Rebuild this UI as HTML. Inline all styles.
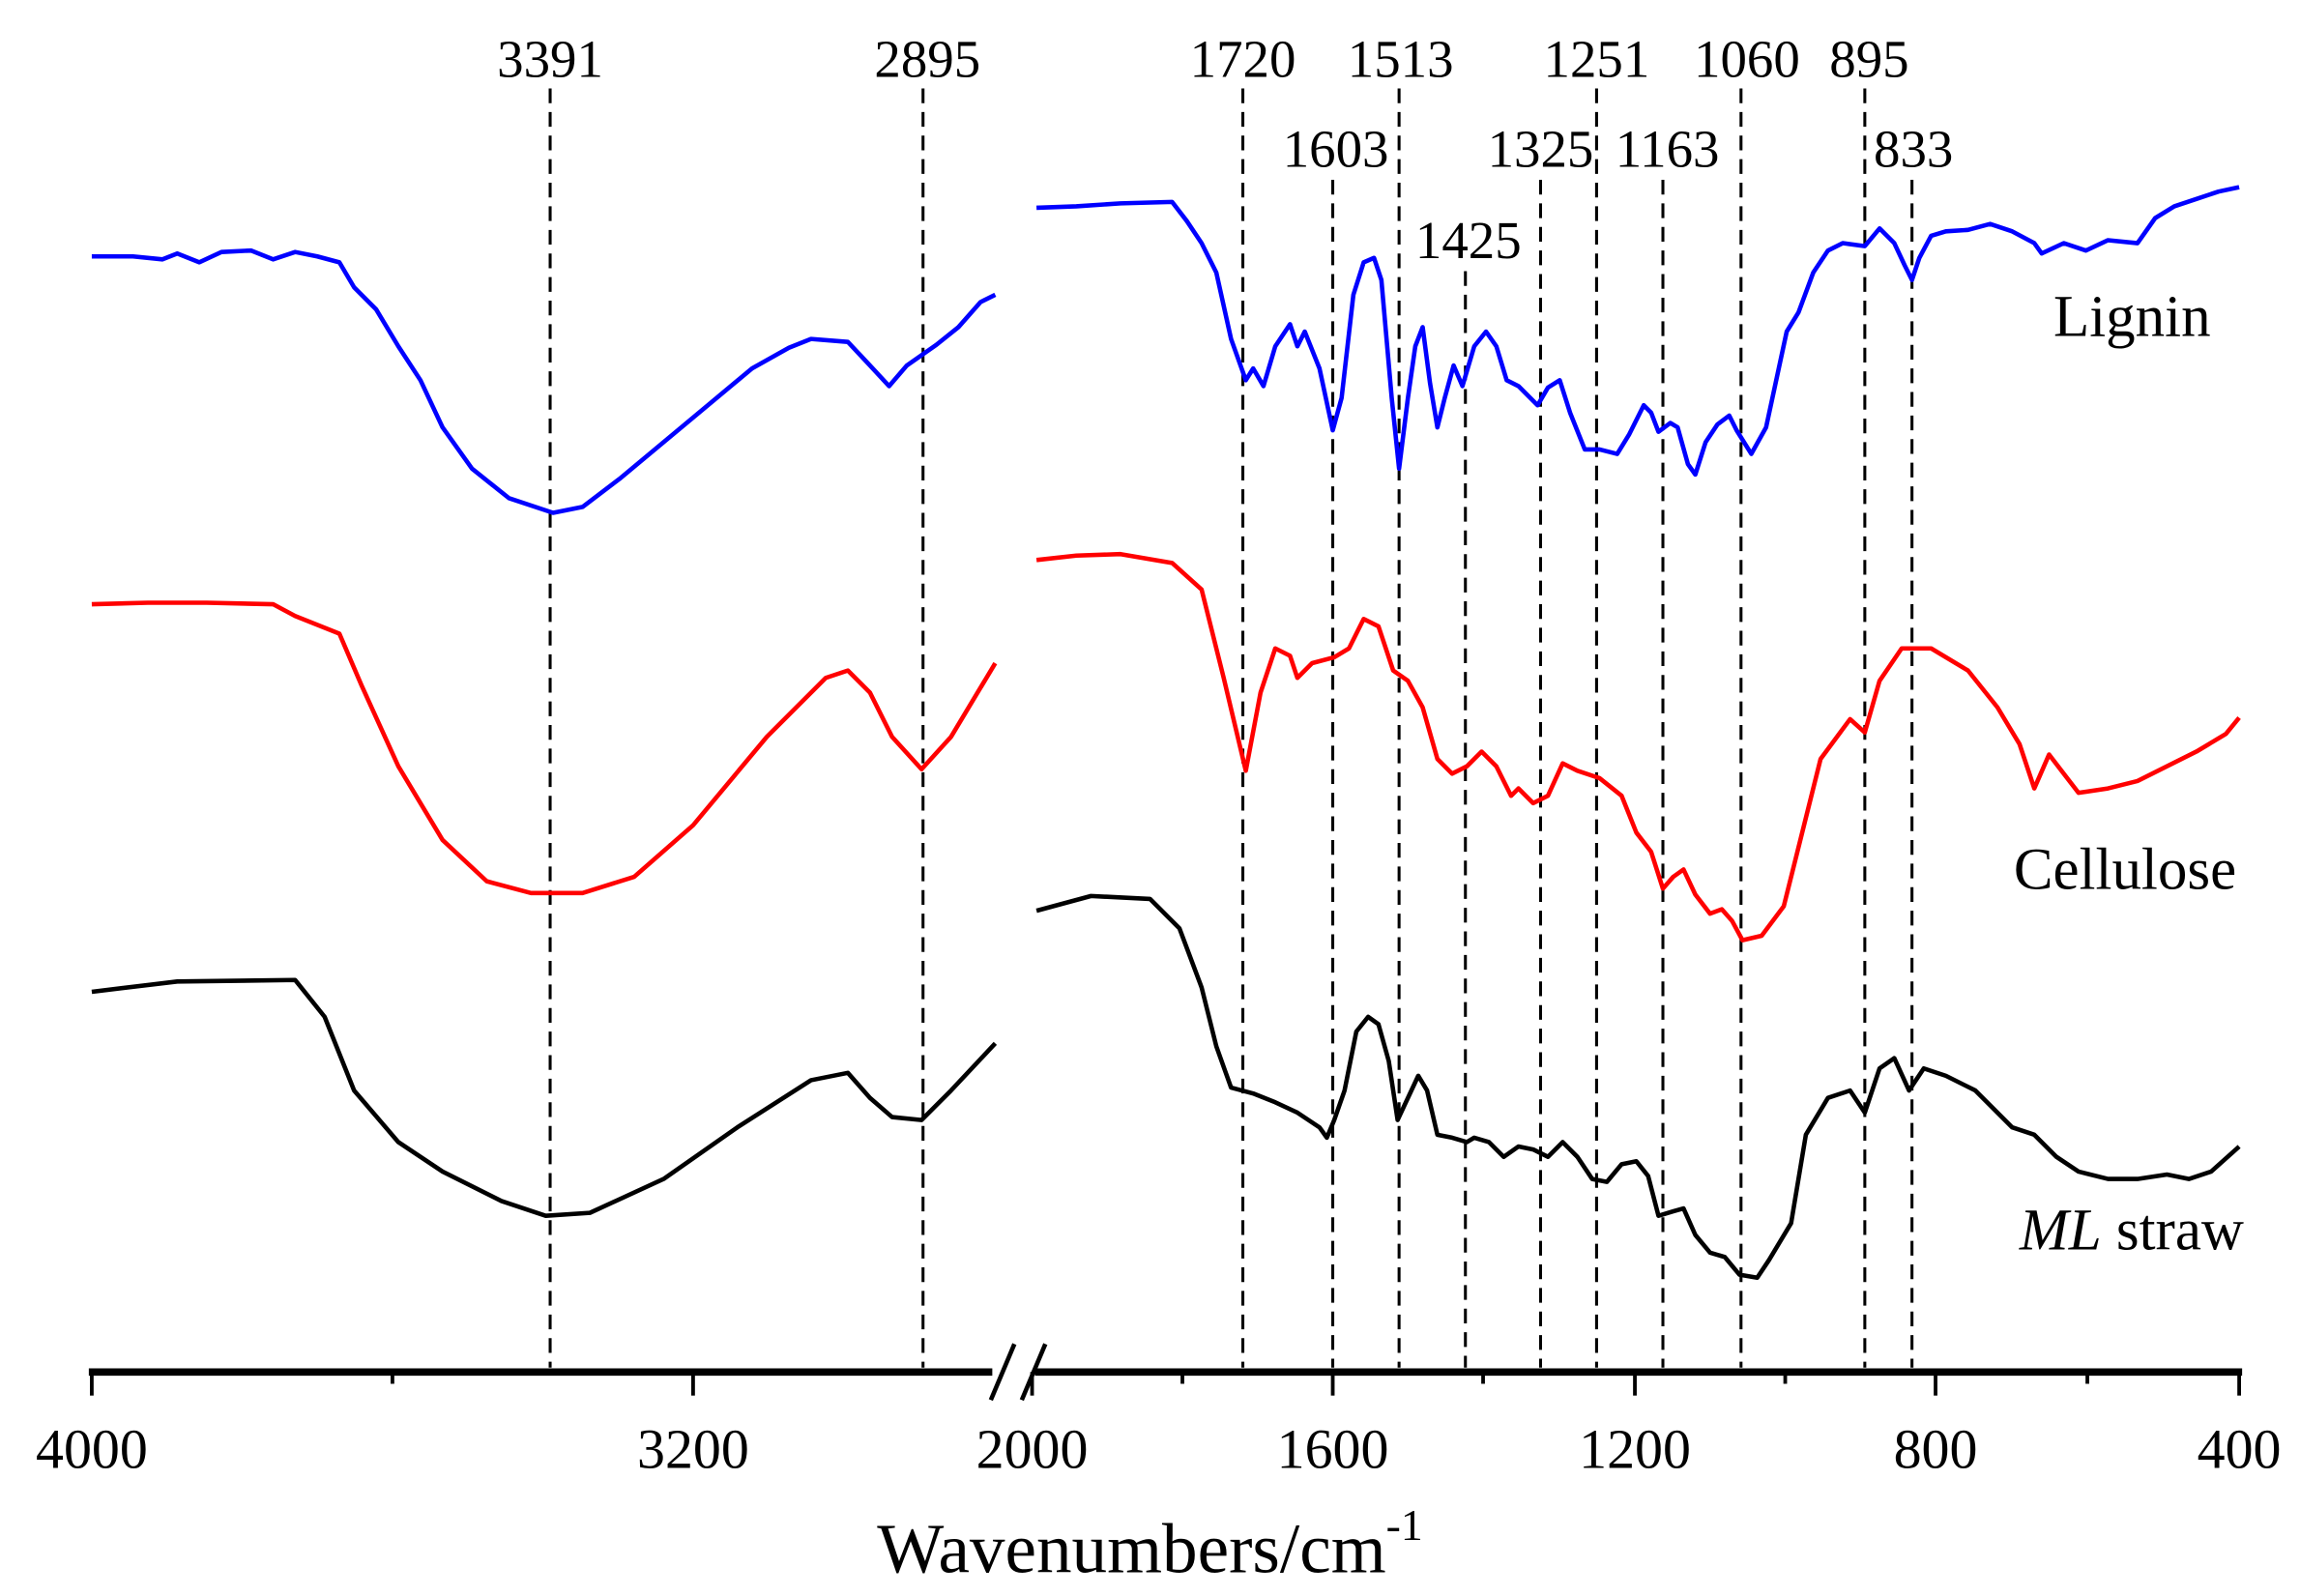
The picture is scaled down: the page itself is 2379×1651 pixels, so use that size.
<!DOCTYPE html>
<html><head><meta charset="utf-8"><style>html,body{margin:0;padding:0;background:#fff}svg{display:block}</style></head>
<body>
<svg width="2379" height="1651" viewBox="0 0 1560 1083" xmlns="http://www.w3.org/2000/svg" font-family="Liberation Serif, serif">
<g stroke="#000" stroke-width="2" stroke-dasharray="10,6" fill="none">
<line x1="373" y1="60" x2="373" y2="928"/>
<line x1="626" y1="60" x2="626" y2="928"/>
<line x1="843" y1="60" x2="843" y2="928"/>
<line x1="949" y1="60" x2="949" y2="928"/>
<line x1="1083" y1="60" x2="1083" y2="928"/>
<line x1="1181" y1="60" x2="1181" y2="928"/>
<line x1="1265" y1="60" x2="1265" y2="928"/>
<line x1="904" y1="122" x2="904" y2="928"/>
<line x1="1045" y1="122" x2="1045" y2="928"/>
<line x1="1128" y1="122" x2="1128" y2="928"/>
<line x1="1297" y1="122" x2="1297" y2="928"/>
<line x1="994" y1="184" x2="994" y2="928"/>
</g>
<g font-size="36" text-anchor="middle" fill="#000">
<text x="373" y="52">3391</text><text x="629" y="52">2895</text><text x="843" y="52">1720</text><text x="950" y="52">1513</text><text x="1083" y="52">1251</text><text x="1185" y="52">1060</text><text x="1268" y="52">895</text>
<text x="906" y="113">1603</text><text x="1045" y="113">1325</text><text x="1131" y="113">1163</text><text x="1298" y="113">833</text>
<text x="996" y="175">1425</text>
</g>
<g font-size="40" fill="#000">
<text x="1393" y="228">Lignin</text>
<text x="1366" y="603">Cellulose</text>
<text x="1370" y="848"><tspan font-style="italic">ML</tspan> straw</text>
</g>
<g fill="none" stroke-width="3" stroke-linejoin="round">
<polyline stroke="#0000ff" points="62,174 90,174 110,176 120,172 135,178 150,171 170,170 185,176 200,171 215,174 230,178 240,195 255,210 270,235 285,258 300,290 320,318 345,338 375,348 395,344 420,325 450,300 480,275 510,250 535,236 550,230 575,232 590,248 603,262 615,248 635,234 650,222 665,205 675,200"/>
<polyline stroke="#0000ff" points="703,141 730,140 760,138 795,137 805,150 815,165 825,185 835,230 845,258 850,250 857,262 865,235 875,220 880,235 885,225 895,250 904,292 910,270 918,200 925,178 932,175 937,190 944,270 949,318 955,270 960,235 965,222 970,260 975,290 980,270 986,248 992,262 1000,235 1008,225 1015,235 1022,258 1030,262 1043,275 1050,263 1058,258 1065,280 1075,305 1085,305 1097,308 1105,295 1115,275 1120,280 1125,293 1133,287 1138,290 1145,315 1150,322 1157,300 1165,288 1173,282 1178,292 1188,308 1198,290 1212,225 1220,212 1230,185 1240,170 1250,165 1265,167 1275,155 1285,165 1292,180 1297,190 1302,175 1310,160 1320,157 1335,156 1350,152 1365,157 1380,165 1385,172 1400,165 1415,170 1430,163 1450,165 1462,148 1475,140 1490,135 1505,130 1519,127"/>
<polyline stroke="#ff0000" points="62,410 100,409 140,409 185,410 200,418 230,430 245,465 270,520 300,570 330,598 360,606 395,606 430,595 470,560 520,500 560,460 575,455 590,470 605,500 625,522 645,500 675,450"/>
<polyline stroke="#ff0000" points="703,380 730,377 760,376 795,382 815,400 830,460 845,523 855,470 865,440 875,445 880,460 890,450 905,446 915,440 925,420 935,425 945,455 955,462 965,480 975,515 985,525 995,520 1005,510 1015,520 1025,540 1030,535 1040,545 1050,540 1060,518 1070,523 1085,528 1100,540 1110,565 1120,578 1128,603 1135,595 1142,590 1150,607 1160,620 1168,617 1175,625 1182,638 1195,635 1210,615 1220,575 1235,515 1255,488 1265,497 1275,462 1290,440 1310,440 1335,455 1355,480 1370,505 1380,535 1390,512 1400,525 1410,538 1430,535 1450,530 1470,520 1490,510 1510,498 1519,487"/>
<polyline stroke="#000" points="62,673 120,666 200,665 220,690 240,740 270,775 300,795 340,815 370,825 400,823 450,800 500,765 550,733 575,728 590,745 605,758 625,760 645,740 675,708"/>
<polyline stroke="#000" points="703,618 740,608 780,610 800,630 815,670 825,710 835,738 850,742 865,748 880,755 895,765 900,772 905,760 912,740 920,700 928,690 935,695 942,720 948,760 955,745 962,730 968,740 975,770 985,772 995,775 1000,772 1010,775 1020,785 1030,778 1040,780 1050,785 1060,775 1070,785 1080,800 1090,802 1100,790 1110,788 1118,798 1125,825 1135,822 1142,820 1150,838 1160,850 1170,853 1180,865 1192,867 1200,855 1215,830 1225,770 1240,745 1255,740 1265,755 1275,725 1285,718 1295,740 1305,725 1320,730 1340,740 1355,755 1365,765 1380,770 1395,785 1410,795 1430,800 1450,800 1470,797 1485,800 1500,795 1519,778"/>
</g>
<g stroke="#000" fill="none">
<line x1="60" y1="931" x2="673" y2="931" stroke-width="5"/>
<line x1="702" y1="931" x2="1521" y2="931" stroke-width="5"/>
<line x1="672" y1="950" x2="688" y2="912" stroke-width="3"/>
<line x1="693" y1="950" x2="709" y2="912" stroke-width="3"/>
<g stroke-width="2.5">
<line x1="62" y1="931" x2="62" y2="947"/><line x1="470" y1="931" x2="470" y2="947"/>
<line x1="700" y1="931" x2="700" y2="947"/><line x1="904" y1="931" x2="904" y2="947"/>
<line x1="1109" y1="931" x2="1109" y2="947"/><line x1="1313" y1="931" x2="1313" y2="947"/>
<line x1="1519" y1="931" x2="1519" y2="947"/>
<line x1="266" y1="931" x2="266" y2="939"/><line x1="802" y1="931" x2="802" y2="939"/>
<line x1="1006" y1="931" x2="1006" y2="939"/><line x1="1211" y1="931" x2="1211" y2="939"/>
<line x1="1416" y1="931" x2="1416" y2="939"/>
</g>
</g>
<g font-size="38" text-anchor="middle" fill="#000">
<text x="62" y="996">4000</text><text x="470" y="996">3200</text><text x="700" y="996">2000</text>
<text x="904" y="996">1600</text><text x="1109" y="996">1200</text><text x="1313" y="996">800</text><text x="1519" y="996">400</text>
</g>
<text x="780" y="1067" font-size="48" text-anchor="middle" fill="#000">Wavenumbers/cm<tspan font-size="30" dy="-22">-1</tspan></text>
</svg>
</body></html>
